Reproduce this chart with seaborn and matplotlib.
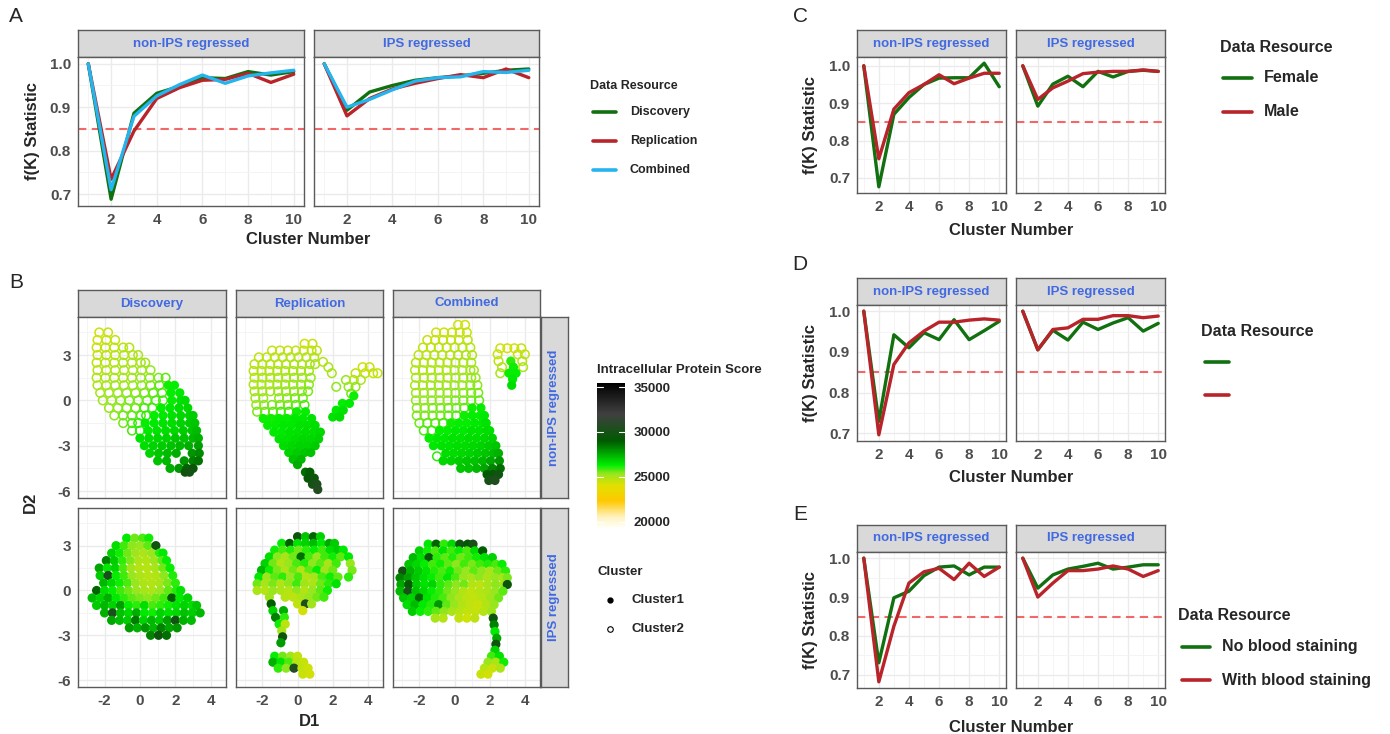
import numpy as np
import pandas as pd
import seaborn as sns
import matplotlib
matplotlib.use('Agg')
import matplotlib.pyplot as plt
from matplotlib.colors import LinearSegmentedColormap, Normalize
from matplotlib.cm import ScalarMappable
from matplotlib.lines import Line2D

W, H = 1390, 734

# ---------------------------------------------------------------
# f(K) curves, cluster number 1..10
# ---------------------------------------------------------------
cluster_k = [1, 2, 3, 4, 5, 6, 7, 8, 9, 10]
facets = ['non-IPS regressed', 'IPS regressed']

# panel A: data resource
a_discovery_non = [1.0, 0.688, 0.886, 0.932, 0.948, 0.968, 0.966, 0.982, 0.974, 0.982]
a_replication_non = [1.0, 0.734, 0.845, 0.920, 0.945, 0.962, 0.964, 0.978, 0.957, 0.976]
a_combined_non = [1.0, 0.710, 0.879, 0.926, 0.952, 0.974, 0.955, 0.972, 0.979, 0.985]
a_discovery_ips = [1.0, 0.893, 0.935, 0.950, 0.962, 0.968, 0.972, 0.978, 0.985, 0.988]
a_replication_ips = [1.0, 0.880, 0.920, 0.942, 0.955, 0.966, 0.975, 0.968, 0.988, 0.968]
a_combined_ips = [1.0, 0.900, 0.918, 0.940, 0.960, 0.968, 0.970, 0.982, 0.980, 0.985]

# panel C: sex
c_female_non = [1.0, 0.676, 0.870, 0.915, 0.950, 0.967, 0.968, 0.968, 1.007, 0.944]
c_male_non = [1.0, 0.751, 0.884, 0.928, 0.950, 0.976, 0.952, 0.967, 0.980, 0.980]
c_female_ips = [1.0, 0.892, 0.951, 0.972, 0.944, 0.985, 0.970, 0.985, 0.988, 0.985]
c_male_ips = [1.0, 0.910, 0.941, 0.959, 0.979, 0.983, 0.985, 0.985, 0.989, 0.985]

# panel D: unlabeled groups
d_green_non = [1.0, 0.729, 0.942, 0.910, 0.947, 0.930, 0.979, 0.930, 0.952, 0.975]
d_red_non = [1.0, 0.696, 0.869, 0.922, 0.951, 0.973, 0.973, 0.978, 0.981, 0.978]
d_green_ips = [1.0, 0.905, 0.953, 0.929, 0.973, 0.955, 0.971, 0.984, 0.951, 0.970]
d_red_ips = [1.0, 0.905, 0.955, 0.959, 0.980, 0.980, 0.989, 0.989, 0.984, 0.988]

# panel E: blood staining
e_noblood_non = [1.0, 0.731, 0.898, 0.915, 0.955, 0.977, 0.980, 0.957, 0.977, 0.977]
e_blood_non = [1.0, 0.682, 0.825, 0.936, 0.965, 0.974, 0.945, 0.987, 0.953, 0.977]
e_noblood_ips = [1.0, 0.923, 0.957, 0.972, 0.979, 0.987, 0.972, 0.977, 0.983, 0.983]
e_blood_ips = [1.0, 0.900, 0.936, 0.968, 0.968, 0.972, 0.980, 0.972, 0.953, 0.968]

# ---------------------------------------------------------------
# panel B scatter, rows of (D2, [D1 values], [protein scores])
# ---------------------------------------------------------------
disc_non_c2 = [
    (4.5, [-2.3, -1.8], [24400, 24500]),
    (4.0, [-2.4, -1.9, -1.4], [24400, 24500, 24600]),
    (3.5, [-2.45, -1.95, -1.45, -0.95, -0.6], [24500, 24600, 24700, 24700, 24800]),
    (3.0, [-2.4, -1.9, -1.4, -0.9, -0.4, -0.1], [24600, 24700, 24800, 24900, 24900, 25000]),
    (2.5, [-2.45, -1.95, -1.45, -0.95, -0.45, 0.05, 0.3], [24700, 24800, 24900, 25000, 25000, 25100, 25200]),
    (2.0, [-2.4, -1.9, -1.4, -0.9, -0.4, 0.1, 0.6], [24800, 24900, 25000, 25100, 25100, 25200, 25300]),
    (1.5, [-2.45, -1.95, -1.45, -0.95, -0.45, 0.05, 0.55, 1.05, 1.45], [24900, 25000, 25100, 25100, 25200, 25300, 25400, 25500, 25700]),
    (1.0, [-2.4, -1.9, -1.4, -0.9, -0.4, 0.1, 0.6, 1.1], [25000, 25100, 25200, 25200, 25300, 25400, 25500, 25700]),
    (0.5, [-2.25, -1.75, -1.25, -0.75, -0.25, 0.25, 0.75, 1.25], [25100, 25200, 25300, 25400, 25400, 25500, 25700, 25800]),
    (0.0, [-2.1, -1.6, -1.1, -0.6, -0.1, 0.4, 0.9, 1.3], [25200, 25300, 25400, 25500, 25600, 25700, 25800, 25900]),
    (-0.5, [-1.75, -1.25, -0.75, -0.25, 0.25, 0.7], [25300, 25400, 25500, 25600, 25800, 25900]),
    (-1.0, [-1.45, -0.95, -0.45, 0.05, 0.35], [25400, 25600, 25700, 25800, 26000]),
    (-1.5, [-0.95, -0.45, -0.1], [25600, 25800, 26000]),
    (-2.0, [-0.45, 0.0], [25800, 26000]),
]
disc_non_c1 = [
    (1.0, [1.6, 1.95], [26200, 26300]),
    (0.5, [1.75, 2.25], [26300, 26400]),
    (0.0, [1.8, 2.3, 2.55], [26300, 26500, 26600]),
    (-0.5, [1.2, 1.7, 2.2, 2.7], [26300, 26400, 26600, 26700]),
    (-1.0, [0.8, 1.3, 1.8, 2.3, 2.8, 3.0], [26300, 26400, 26500, 26700, 26800, 26900]),
    (-1.5, [0.3, 0.8, 1.3, 1.8, 2.3, 2.8, 3.1], [26300, 26400, 26500, 26600, 26800, 26900, 27000]),
    (-2.0, [0.45, 0.95, 1.45, 1.95, 2.45, 2.95, 3.2], [26400, 26500, 26600, 26700, 26900, 27000, 27200]),
    (-2.5, [0.0, 0.5, 1.0, 1.5, 2.0, 2.5, 3.0, 3.3], [26500, 26600, 26700, 26800, 27000, 27100, 27300, 27400]),
    (-3.0, [0.25, 0.75, 1.25, 1.75, 2.25, 2.75, 3.3], [26600, 26800, 26900, 27100, 27300, 27500, 27700]),
    (-3.5, [0.55, 1.05, 1.55, 2.05, 2.95, 3.35], [26800, 27000, 27200, 27500, 27900, 28100]),
    (-4.0, [1.0, 1.5, 2.5, 3.0, 3.3], [27100, 27300, 27900, 28300, 28500]),
    (-4.5, [1.7, 2.2, 2.65, 3.0], [27500, 27900, 28800, 29300]),
    (-4.75, [2.55, 2.8], [29600, 29900]),
]

rep_non_c2 = [
    (3.75, [0.4, 0.85], [24400, 24500]),
    (3.3, [-1.45, -1.0, -0.55, -0.1, 0.35, 0.8, 1.1], [24500, 24500, 24600, 24600, 24500, 24600, 24700]),
    (2.85, [-2.2, -1.75, -1.3, -0.85, -0.4, 0.05, 0.5, 0.95], [24600, 24700, 24700, 24800, 24800, 24800, 24900, 24900]),
    (2.4, [-2.45, -2.0, -1.55, -1.1, -0.65, -0.2, 0.25, 0.7, 1.0], [24700, 24800, 24800, 24900, 24900, 25000, 25000, 25100, 25100]),
    (1.95, [-2.5, -2.05, -1.6, -1.15, -0.7, -0.25, 0.2, 0.65], [24800, 24900, 24900, 25000, 25000, 25100, 25100, 25200]),
    (1.5, [-2.45, -2.0, -1.55, -1.1, -0.65, -0.2, 0.25, 0.75], [24900, 25000, 25000, 25100, 25100, 25200, 25200, 25300]),
    (1.05, [-2.5, -2.05, -1.6, -1.15, -0.7, -0.25, 0.2, 0.65], [25000, 25100, 25100, 25200, 25200, 25300, 25300, 25400]),
    (0.6, [-2.45, -2.0, -1.55, -1.1, -0.65, -0.2, 0.25, 0.6], [25100, 25200, 25200, 25300, 25300, 25400, 25400, 25500]),
    (0.15, [-2.4, -1.95, -1.05, -0.6, -0.15, 0.3], [25200, 25300, 25400, 25400, 25500, 25600]),
    (-0.3, [-2.35, -1.9, -1.45, -1.0, -0.55, -0.1, 0.4], [25300, 25400, 25500, 25500, 25600, 25700, 25800]),
    (-0.75, [-2.3, -1.85, -1.4, -0.95, -0.5], [25500, 25600, 25700, 25800, 25900]),
    (2.55, [1.45], [24900]),
    (2.2, [1.75, 3.7, 4.1], [25000, 24400, 24500]),
    (1.8, [1.95, 3.3, 3.85, 4.3, 4.55], [25100, 24600, 24500, 24500, 24600]),
    (1.35, [2.75, 3.2, 3.6], [25300, 24900, 25000]),
    (0.9, [2.2, 2.9, 3.3], [25400, 25300, 25400]),
    (0.45, [3.05], [25600]),
]
rep_non_c1 = [
    (-0.75, [-0.05, 0.45], [26200, 26300]),
    (-1.2, [-1.95, -1.5, -1.05, -0.6, -0.15, 0.3, 0.8], [26200, 26200, 26300, 26300, 26400, 26400, 26500]),
    (-1.65, [-1.7, -1.25, -0.8, -0.35, 0.1, 0.55, 1.0], [26300, 26300, 26400, 26400, 26500, 26500, 26600]),
    (-2.1, [-1.35, -0.9, -0.45, 0.0, 0.45, 0.9, 1.3], [26400, 26400, 26500, 26500, 26600, 26600, 26700]),
    (-2.55, [-1.05, -0.6, -0.15, 0.3, 0.75, 1.2], [26500, 26500, 26600, 26700, 26700, 26800]),
    (-3.0, [-0.8, -0.35, 0.1, 0.55, 1.0], [26600, 26700, 26800, 26800, 26900]),
    (-3.45, [-0.5, -0.05, 0.4, 0.75], [26800, 26900, 27000, 27100]),
    (-3.9, [-0.25, 0.2], [27100, 27300]),
    (-4.25, [0.0], [27500]),
    (-4.75, [0.45, 0.7], [28600, 28900]),
    (-5.15, [0.6, 0.95], [29300, 29600]),
    (-5.55, [0.85, 1.1], [30000, 30300]),
    (-5.9, [1.15], [30600]),
    (0.3, [3.2], [26200]),
    (-0.2, [2.55, 2.95], [26300, 26400]),
    (-0.65, [2.2, 2.6], [26400, 26500]),
    (-1.1, [2.0, 2.4], [26500, 26600]),
]

comb_non_c2 = [
    (5.0, [0.2, 0.6], [24300, 24400]),
    (4.5, [-1.05, -0.6, -0.15, 0.3, 0.7], [24400, 24400, 24500, 24500, 24500]),
    (4.0, [-1.55, -1.1, -0.65, -0.2, 0.25, 0.75], [24500, 24500, 24600, 24600, 24600, 24700]),
    (3.5, [-1.8, -1.35, -0.9, -0.45, 0.0, 0.45, 0.9], [24600, 24600, 24700, 24700, 24700, 24800, 24800]),
    (3.0, [-2.05, -1.6, -1.15, -0.7, -0.25, 0.2, 0.65, 1.0], [24700, 24700, 24800, 24800, 24800, 24900, 24900, 25000]),
    (2.5, [-2.2, -1.75, -1.3, -0.85, -0.4, 0.05, 0.5, 0.95], [24800, 24800, 24900, 24900, 24900, 25000, 25000, 25100]),
    (2.0, [-2.25, -1.8, -1.35, -0.9, -0.45, 0.0, 0.45, 0.9, 1.1], [24900, 24900, 25000, 25000, 25000, 25100, 25100, 25200, 25200]),
    (1.5, [-2.2, -1.75, -1.3, -0.85, -0.4, 0.05, 0.5, 0.95, 1.2], [25000, 25000, 25100, 25100, 25100, 25200, 25200, 25300, 25300]),
    (1.0, [-2.25, -1.8, -1.35, -0.9, -0.45, 0.0, 0.45, 0.9, 1.3], [25100, 25100, 25200, 25200, 25200, 25300, 25300, 25400, 25400]),
    (0.5, [-2.2, -1.75, -1.3, -0.85, -0.4, 0.05, 0.5, 0.95, 1.35], [25200, 25200, 25300, 25300, 25300, 25400, 25400, 25500, 25500]),
    (0.0, [-2.2, -1.75, -1.3, -0.85, -0.4, 0.05, 0.5, 0.95, 1.4], [25300, 25300, 25400, 25400, 25400, 25500, 25500, 25600, 25700]),
    (-0.5, [-2.15, -1.7, -1.25, -0.8, -0.35, 0.1, 0.55], [25400, 25400, 25500, 25500, 25600, 25600, 25700]),
    (-1.0, [-2.15, -1.7, -1.25, -0.8, -0.35, 0.1], [25500, 25500, 25600, 25600, 25700, 25800]),
    (-1.5, [-2.0, -1.55, -1.1, -0.65], [25600, 25700, 25700, 25800]),
    (-2.0, [-1.75, -1.3], [25800, 25900]),
    (-3.7, [-1.0], [26000]),
    (3.45, [2.6, 3.0, 3.4, 3.8], [24400, 24300, 24400, 24500]),
    (3.05, [2.45, 3.6, 4.0], [24500, 24500, 24600]),
    (2.6, [2.5, 3.85], [24700, 24800]),
    (2.2, [2.7, 3.9], [24900, 25000]),
    (1.8, [2.6], [25100]),
]
comb_non_c1 = [
    (-0.5, [1.0, 1.5], [26200, 26300]),
    (-1.0, [0.55, 1.0, 1.45, 1.7], [26200, 26300, 26300, 26400]),
    (-1.5, [-0.2, 0.25, 0.7, 1.15, 1.6, 1.8], [26200, 26300, 26300, 26400, 26400, 26500]),
    (-2.0, [-0.85, -0.4, 0.05, 0.5, 0.95, 1.4, 1.85, 2.0], [26300, 26300, 26400, 26400, 26500, 26500, 26600, 26600]),
    (-2.5, [-1.45, -1.0, -0.55, -0.1, 0.35, 0.8, 1.25, 1.7, 2.15], [26300, 26400, 26400, 26500, 26500, 26600, 26600, 26700, 26800]),
    (-3.0, [-1.2, -0.75, -0.3, 0.15, 0.6, 1.05, 1.5, 1.95, 2.35], [26400, 26500, 26500, 26600, 26600, 26700, 26800, 26900, 27000]),
    (-3.5, [-0.5, -0.05, 0.4, 0.85, 1.3, 1.75, 2.2, 2.5], [26600, 26600, 26700, 26800, 26900, 27000, 27200, 27400]),
    (-4.0, [-0.65, -0.2, 0.25, 0.7, 1.15, 1.6, 2.05, 2.55], [26700, 26800, 26900, 27000, 27100, 27300, 27600, 27900]),
    (-4.5, [0.35, 0.8, 1.25, 1.7, 2.15, 2.6], [27000, 27100, 27300, 27600, 28200, 28600]),
    (-4.9, [1.85, 2.2, 2.5], [29000, 29400, 29700]),
    (-5.3, [1.95, 2.3], [30000, 30400]),
    (2.6, [3.2], [26000]),
    (2.2, [3.35], [26200]),
    (1.8, [3.1, 3.5], [26300, 26300]),
    (1.4, [3.3], [26400]),
    (1.0, [3.25], [26600]),
]

disc_ips_c1 = [
    (3.5, [-0.75, -0.3, 0.15, 0.5], [26400, 25600, 25800, 26200]),
    (3.0, [-1.35, -0.9, -0.45, 0.0, 0.45, 0.9], [26600, 25900, 25400, 25300, 25700, 29800]),
    (2.5, [-1.6, -1.15, -0.7, -0.25, 0.2, 0.65, 1.1, 1.3], [26800, 26200, 25600, 25200, 25000, 25300, 26000, 26400]),
    (2.0, [-1.9, -1.45, -1.0, -0.55, -0.1, 0.35, 0.8, 1.25, 1.5], [28300, 26900, 26000, 25500, 25000, 24900, 25200, 25700, 26300]),
    (1.5, [-2.3, -1.85, -1.4, -0.95, -0.5, -0.05, 0.4, 0.85, 1.3, 1.7], [27600, 26400, 26800, 25800, 25200, 24900, 24800, 25100, 25600, 26300]),
    (1.0, [-2.25, -1.8, -1.35, -0.9, -0.45, 0.0, 0.45, 0.9, 1.35, 1.85], [26900, 30200, 26300, 25900, 25300, 25000, 24800, 24900, 25400, 26100]),
    (0.5, [-2.05, -1.6, -1.15, -0.7, -0.25, 0.2, 0.65, 1.1, 1.55, 2.0], [27300, 26700, 26200, 25800, 25300, 25000, 24900, 25100, 25500, 26000]),
    (0.0, [-2.45, -2.0, -1.55, -1.1, -0.65, -0.2, 0.25, 0.7, 1.15, 1.6, 2.05, 2.3], [28800, 26600, 26300, 25900, 25600, 25300, 25100, 25000, 25300, 25700, 26100, 26500]),
    (-0.5, [-2.7, -2.25, -1.8, -1.35, -0.9, -0.45, 0.0, 0.45, 0.9, 1.35, 1.8, 2.25, 2.7], [27200, 26800, 27500, 26400, 26000, 25700, 25500, 25400, 25600, 25900, 28900, 26400, 26800]),
    (-1.0, [-2.45, -2.0, -1.55, -1.1, -0.65, -0.2, 0.25, 0.7, 1.15, 1.6, 2.05, 2.5, 2.95, 3.2], [26900, 27300, 26800, 27800, 26300, 26000, 26600, 25800, 26000, 26200, 26500, 26800, 26600, 27000]),
    (-1.5, [-2.0, -1.55, -1.1, -0.65, -0.2, 0.25, 0.7, 1.15, 1.6, 2.05, 2.5, 2.95, 3.4], [27400, 30300, 27100, 26700, 27500, 26400, 26200, 26800, 26500, 26700, 27100, 26900, 27300]),
    (-2.0, [-1.6, -1.15, -0.7, -0.25, 0.2, 0.65, 1.1, 1.55, 2.0, 2.45, 2.9], [27600, 27200, 26900, 28400, 26800, 27300, 26900, 27700, 29900, 27400, 27200]),
    (-2.5, [-0.6, -0.15, 0.3, 0.75, 1.2, 1.65, 2.1], [27800, 27400, 27900, 27300, 28300, 27600, 27900]),
    (-3.0, [0.6, 1.05, 1.5], [28200, 29500, 28600]),
]

rep_ips_c1 = [
    (3.6, [0.0, 0.45, 0.9, 1.3], [29600, 27000, 28800, 26800]),
    (3.15, [-0.9, -0.45, 0.0, 0.45, 0.9, 1.35, 1.8, 2.1], [26300, 28900, 26500, 26800, 27200, 26400, 27600, 26900]),
    (2.7, [-1.3, -0.85, -0.4, 0.05, 0.5, 0.95, 1.4, 1.85, 2.3, 2.6], [26200, 25800, 26100, 25600, 26000, 26300, 25900, 26600, 26900, 26400]),
    (2.25, [-1.6, -1.15, -0.7, -0.25, 0.2, 0.65, 1.1, 1.55, 2.0, 2.45, 2.9], [26600, 25400, 25100, 25600, 28600, 25800, 25300, 25900, 26200, 25700, 26400]),
    (1.8, [-1.85, -1.4, -0.95, -0.5, -0.05, 0.4, 0.85, 1.3, 1.75, 2.2, 3.0], [26800, 25600, 24900, 25300, 25800, 26100, 25400, 25700, 25100, 25900, 25300]),
    (1.35, [-2.05, -1.6, -1.15, -0.7, -0.25, 0.2, 0.65, 1.1, 1.55, 2.0, 3.1], [27300, 26200, 25500, 25000, 25600, 24900, 25700, 26300, 25200, 25600, 25500]),
    (0.9, [-2.2, -1.75, -1.3, -0.85, -0.4, 0.05, 0.5, 0.95, 1.4, 1.85, 2.3, 2.9], [26400, 25200, 25700, 26000, 25300, 25800, 24900, 25100, 25800, 26200, 25700, 26000]),
    (0.45, [-2.3, -1.85, -1.4, -0.95, -0.5, -0.05, 0.4, 0.85, 1.3, 1.75, 2.2], [25600, 25100, 25500, 24900, 25400, 25900, 25200, 25000, 25600, 26000, 26500]),
    (0.0, [-2.3, -1.85, -1.4, -0.95, -0.5, -0.05, 0.4, 0.85, 1.3, 1.7], [25000, 24800, 25300, 25000, 24800, 25400, 24900, 25300, 25700, 26200]),
    (-0.45, [-1.6, -0.7, -0.25, 0.2, 0.65, 1.1, 1.5], [25200, 24800, 24700, 25000, 25300, 25600, 25900]),
    (-0.9, [-1.5, 0.0, 0.45, 0.8], [28900, 24600, 30400, 25200]),
    (-1.35, [-1.4, -0.8, 0.3], [26800, 27500, 24300]),
    (-1.8, [-1.25, -0.75], [28300, 26000]),
    (-2.25, [-1.05, -0.7], [26200, 24700]),
    (-2.7, [-0.9], [25100]),
    (-3.1, [-0.85], [29600]),
    (-3.5, [-0.95], [27800]),
    (-4.4, [-1.3, -0.85, -0.4, 0.0], [26300, 25600, 25200, 24600]),
    (-4.8, [-1.4, -0.95, -0.5, -0.05, 0.35], [27400, 26500, 25800, 24800, 24500]),
    (-5.2, [-1.1, -0.65, -0.2, 0.25, 0.6], [26000, 25400, 30600, 24600, 24400]),
    (-5.6, [0.3, 0.7], [24500, 24300]),
]

comb_ips_c1 = [
    (3.1, [-1.5, -1.05, -0.6, -0.15, 0.3, 0.75, 1.05], [26400, 28800, 26000, 26700, 29700, 29200, 30100]),
    (2.65, [-2.0, -1.55, -1.1, -0.65, -0.2, 0.25, 0.7, 1.15, 1.6], [26800, 26200, 25800, 26500, 25900, 26300, 25800, 26600, 28900]),
    (2.2, [-2.35, -1.9, -1.45, -1.0, -0.55, -0.1, 0.35, 0.8, 1.25, 1.7, 2.15], [27200, 26600, 29300, 26000, 25700, 26100, 25600, 25900, 26200, 26500, 26800]),
    (1.75, [-2.6, -2.15, -1.7, -1.25, -0.8, -0.35, 0.1, 0.55, 1.0, 1.45, 1.9, 2.35, 2.7], [27000, 26700, 26300, 25900, 26200, 25700, 25400, 25900, 25500, 25900, 26100, 25800, 26300]),
    (1.3, [-2.95, -2.5, -2.05, -1.6, -1.15, -0.7, -0.25, 0.2, 0.65, 1.1, 1.55, 2.0, 2.45, 2.9], [29800, 27400, 26900, 26500, 26100, 25800, 26200, 25600, 25300, 25700, 25400, 25100, 25600, 26000]),
    (0.85, [-3.1, -2.65, -2.2, -1.75, -1.3, -0.85, -0.4, 0.05, 0.5, 0.95, 1.4, 1.85, 2.3, 2.75, 3.0], [28300, 27700, 27000, 26600, 26300, 25900, 26400, 25800, 25300, 25100, 25400, 25000, 25300, 25100, 25500]),
    (0.4, [-3.05, -2.6, -2.15, -1.7, -1.25, -0.8, -0.35, 0.1, 0.55, 1.0, 1.45, 1.9, 2.35, 2.8, 3.0], [27600, 28900, 26900, 26500, 26800, 26000, 25700, 25400, 25600, 24900, 24700, 25100, 25400, 25200, 29500]),
    (-0.05, [-3.1, -2.65, -2.2, -1.75, -1.3, -0.85, -0.4, 0.05, 0.5, 0.95, 1.4, 1.85, 2.3, 2.75], [27300, 30200, 27100, 26700, 26300, 26000, 25600, 25300, 24900, 24600, 24800, 25000, 25300, 25700]),
    (-0.5, [-2.9, -2.45, -2.0, -1.55, -1.1, -0.65, -0.2, 0.25, 0.7, 1.15, 1.6, 2.05, 2.5], [27000, 26800, 28700, 26500, 26100, 25800, 25400, 25000, 24700, 24600, 24800, 25200, 25600]),
    (-0.95, [-2.7, -2.25, -1.8, -1.35, -0.9, -0.45, 0.0, 0.45, 0.9, 1.35, 1.8, 2.25], [26600, 27200, 26400, 26100, 27900, 25700, 25300, 24900, 24600, 24500, 24900, 25300]),
    (-1.4, [-2.4, -1.95, -1.5, -1.05, -0.6, -0.15, 0.3, 0.75, 1.2, 1.65, 2.1], [26900, 26300, 26000, 25700, 25400, 25100, 24800, 24600, 24500, 24800, 25200]),
    (-1.85, [-1.1, -0.65, 0.25, 0.7, 1.15, 2.2], [25100, 24800, 24600, 24400, 24700, 29600]),
    (-2.3, [2.25], [28200]),
    (-2.75, [2.3], [26400]),
    (-3.2, [2.4], [27600]),
    (-3.6, [2.35], [29700]),
    (-4.0, [2.3], [26800]),
    (-4.4, [2.1, 2.55], [25900, 26500]),
    (-4.8, [1.9, 2.35, 2.8], [25300, 25000, 26200]),
    (-5.2, [1.7, 2.15, 2.6], [24800, 24500, 25000]),
    (-5.6, [1.5, 1.9], [24500, 24300]),
]

score_breaks = [20000, 25000, 30000, 35000]
score_nodes = [19300, 20500, 22300, 24000, 25300, 26300, 29000, 32000, 35450]
score_colors = ['#FFFFF8', '#FFF2C0', '#FFC800', '#E2E000', '#9AE61E',
                '#00EE00', '#005A00', '#404040', '#000000']

GREEN = '#11700F'
RED = '#B8242A'
BLUE = '#25B4EE'
GRID = '#EBEBEB'
BORDER = '#5A5A5A'
STRIP_BG = '#D9D9D9'
STRIP_TXT = '#4169E1'
TICK_TXT = '#4D4D4D'

sns.set_style('white')
plt.rcParams['font.family'] = ['Liberation Sans', 'DejaVu Sans']
plt.rcParams['axes.unicode_minus'] = False

fig = plt.figure(figsize=(W / 100, H / 100), dpi=100)
fig.patch.set_facecolor('white')


def add_px(l, t, r, b):
    return fig.add_axes([l / W, 1 - b / H, (r - l) / W, (b - t) / H])


def fig_text(x, y, s, **kw):
    fig.text(x / W, 1 - y / H, s, **kw)


def strip(l, t, r, b, text, rot=0):
    sa = add_px(l, t, r, b)
    sa.set_facecolor(STRIP_BG)
    sa.set_xticks([])
    sa.set_yticks([])
    for sp in sa.spines.values():
        sp.set_color(BORDER)
        sp.set_linewidth(1.0)
    sa.text(0.5, 0.5, text, transform=sa.transAxes, ha='center', va='center',
            rotation=rot, color=STRIP_TXT, fontsize=9.5, fontweight='bold')


def style_panel(ax, xmaj, xmin, ymaj, ymin, show_x, show_y, yfmt=None):
    ax.set_xticks(xmaj)
    ax.set_xticks(xmin, minor=True)
    ax.set_yticks(ymaj)
    ax.set_yticks(ymin, minor=True)
    if yfmt:
        ax.set_yticklabels([yfmt % v for v in ymaj])
    ax.grid(which='major', color=GRID, lw=1.0)
    ax.grid(which='minor', color='#F3F3F3', lw=0.6)
    ax.set_axisbelow(True)
    ax.set_facecolor('white')
    for sp in ax.spines.values():
        sp.set_visible(True)
        sp.set_color(BORDER)
        sp.set_linewidth(1.0)
    ax.tick_params(which='major', length=3, width=0.8, color='#333333',
                   labelsize=11, labelcolor=TICK_TXT, pad=2)
    ax.tick_params(which='minor', length=0)
    for lab in ax.get_xticklabels() + ax.get_yticklabels():
        lab.set_fontweight('bold')
    if not show_x:
        ax.tick_params(axis='x', which='both', labelbottom=False, length=0)
    if not show_y:
        ax.tick_params(axis='y', which='both', labelleft=False, length=0)
    ax.set_xlabel('')
    ax.set_ylabel('')


def draw_fk(strip_top, strip_bot, plot_bot, cols, series, groups):
    # series: {facet: [values per group]}, groups: [(key, color)]
    frames = []
    for facet in facets:
        for (key, color), vals in zip(groups, series[facet]):
            frames.append(pd.DataFrame({'k': cluster_k, 'fk': vals,
                                        'facet': facet, 'group': key}))
    df = pd.concat(frames, ignore_index=True)
    lo, hi = df['fk'].min(), df['fk'].max()
    pad = 0.05 * (hi - lo)
    pal = {key: color for key, color in groups}
    for i, facet in enumerate(facets):
        l, r = cols[i]
        strip(l, strip_top, r, strip_bot, facet)
        ax = add_px(l, strip_bot, r, plot_bot)
        ax.axhline(0.85, color='#F06868', lw=1.5, dashes=(4, 2.6), zorder=1)
        sns.lineplot(data=df[df['facet'] == facet], x='k', y='fk', hue='group',
                     hue_order=[g[0] for g in groups], palette=pal, lw=2.4,
                     errorbar=None, legend=False, ax=ax, zorder=2)
        ax.set_xlim(0.55, 10.45)
        ax.set_ylim(lo - pad, hi + pad)
        style_panel(ax, [2, 4, 6, 8, 10], [1, 3, 5, 7, 9], [0.7, 0.8, 0.9, 1.0],
                    [0.75, 0.85, 0.95], True, i == 0, yfmt='%.1f')


def draw_legend(title, x, y, items, x0, x1, tx, fs):
    fig_text(x, y, title, fontsize=fs, fontweight='bold', va='center', ha='left')
    for yy, color, label in items:
        fig.add_artist(Line2D([x0 / W, x1 / W], [1 - yy / H, 1 - yy / H],
                              color=color, lw=2.6, transform=fig.transFigure))
        if label:
            fig_text(tx, yy, label, fontsize=fs, fontweight='bold',
                     va='center', ha='left')


# ---------------- panel A ----------------
draw_fk(30, 57, 206, [(78, 304), (314, 539)],
        {facets[0]: [a_discovery_non, a_replication_non, a_combined_non],
         facets[1]: [a_discovery_ips, a_replication_ips, a_combined_ips]},
        [('Discovery', GREEN), ('Replication', RED), ('Combined', BLUE)])
fig_text(32, 131, 'f(K) Statistic', fontsize=12, fontweight='bold', rotation=90,
         ha='center', va='center')
fig_text(308, 240, 'Cluster Number', fontsize=12, fontweight='bold',
         ha='center', va='center')
draw_legend('Data Resource', 590, 86,
            [(112, GREEN, 'Discovery'), (141, RED, 'Replication'), (170, BLUE, 'Combined')],
            593, 616, 630, 9)

# ---------------- panel C, D, E ----------------
right_cols = [(857, 1006), (1016, 1165)]
draw_fk(30, 57, 193, right_cols,
        {facets[0]: [c_female_non, c_male_non], facets[1]: [c_female_ips, c_male_ips]},
        [('Female', GREEN), ('Male', RED)])
draw_fk(278, 305, 441, right_cols,
        {facets[0]: [d_green_non, d_red_non], facets[1]: [d_green_ips, d_red_ips]},
        [('group1', GREEN), ('group2', RED)])
draw_fk(525, 552, 688, right_cols,
        {facets[0]: [e_noblood_non, e_blood_non], facets[1]: [e_noblood_ips, e_blood_ips]},
        [('No blood staining', GREEN), ('With blood staining', RED)])
for yl, yc in [(125, 230), (373, 477), (620, 727)]:
    fig_text(811, yl, 'f(K) Statistic', fontsize=12, fontweight='bold', rotation=90,
             ha='center', va='center')
    fig_text(1011, yc, 'Cluster Number', fontsize=12, fontweight='bold',
             ha='center', va='center')
draw_legend('Data Resource', 1220, 47, [(78, GREEN, 'Female'), (112, RED, 'Male')],
            1223, 1252, 1264, 11.5)
draw_legend('Data Resource', 1201, 332, [(362, GREEN, ''), (395, RED, '')],
            1205, 1229, 1240, 11.5)
draw_legend('Data Resource', 1178, 616,
            [(647, GREEN, 'No blood staining'), (680, RED, 'With blood staining')],
            1182, 1210, 1222, 11.5)

# ---------------- panel B ----------------
def rows_to_frame(rows, cluster):
    recs = []
    for d2, xs, ss in rows:
        for d1, s in zip(xs, ss):
            recs.append({'D1': d1, 'D2': d2, 'score': s, 'cluster': cluster})
    return pd.DataFrame(recs, columns=['D1', 'D2', 'score', 'cluster'])


cmap = LinearSegmentedColormap.from_list(
    'protein', [((v - score_nodes[0]) / (score_nodes[-1] - score_nodes[0]), c)
                for v, c in zip(score_nodes, score_colors)])
norm = Normalize(score_nodes[0], score_nodes[-1])

b_cols = [(78, 226), (236, 383), (393, 540)]
b_rows = [(317, 498), (508, 687)]
b_sets = ['Discovery', 'Replication', 'Combined']
b_data = {
    (0, 0): (disc_non_c2, disc_non_c1), (0, 1): (rep_non_c2, rep_non_c1),
    (0, 2): (comb_non_c2, comb_non_c1), (1, 0): ([], disc_ips_c1),
    (1, 1): ([], rep_ips_c1), (1, 2): ([], comb_ips_c1),
}
for j, (l, r) in enumerate(b_cols):
    strip(l, 290, r, 317, b_sets[j])
for i, (t, b) in enumerate(b_rows):
    strip(541, t, 568, b, facets[i], rot=90)
    for j, (l, r) in enumerate(b_cols):
        ax = add_px(l, t, r, b)
        open_rows, filled_rows = b_data[(i, j)]
        df2 = rows_to_frame(open_rows, 'Cluster2')
        df1 = rows_to_frame(filled_rows, 'Cluster1')
        if len(df2):
            sns.scatterplot(data=df2, x='D1', y='D2', hue='score', palette=cmap,
                            hue_norm=norm, s=38, linewidth=0, legend=False, ax=ax)
            coll = ax.collections[-1]
            coll.set_edgecolors(coll.get_facecolors())
            coll.set_facecolors('none')
            coll.set_linewidths(1.1)
        sns.scatterplot(data=df1, x='D1', y='D2', hue='score', palette=cmap,
                        hue_norm=norm, s=44, linewidth=0, legend=False, ax=ax)
        ax.set_xlim(-3.5, 4.86)
        ax.set_ylim(-6.46, 5.52)
        style_panel(ax, [-2, 0, 2, 4], [-3, -1, 1, 3], [-6, -3, 0, 3],
                    [-4.5, -1.5, 1.5, 4.5], i == 1, j == 0)

fig_text(30, 502, 'D2', fontsize=12, fontweight='bold', rotation=90,
         ha='center', va='center')
fig_text(309, 722, 'D1', fontsize=12, fontweight='bold', ha='center', va='center')

# colour bar legend
fig_text(597, 370, 'Intracellular Protein Score', fontsize=9.5, fontweight='bold',
         ha='left', va='center')
cax = add_px(597, 383, 625, 528)
cb = fig.colorbar(ScalarMappable(norm=norm, cmap=cmap), cax=cax, ticks=score_breaks)
cb.outline.set_visible(False)
cax.tick_params(length=0, labelsize=9.5, pad=6)
for lab in cax.get_yticklabels():
    lab.set_fontweight('bold')
for v in score_breaks:
    cax.plot([0, 0.2], [v, v], color='white', lw=0.8)
    cax.plot([0.8, 1.0], [v, v], color='white', lw=0.8)

fig_text(597, 572, 'Cluster', fontsize=9.5, fontweight='bold', ha='left', va='center')
fig.add_artist(Line2D([610 / W], [1 - 600 / H], marker='o', ms=3.5, color='black',
                      lw=0, transform=fig.transFigure))
fig.add_artist(Line2D([610 / W], [1 - 629 / H], marker='o', ms=4, mfc='none',
                      mec='black', mew=0.8, lw=0, transform=fig.transFigure))
fig_text(632, 600, 'Cluster1', fontsize=9.5, fontweight='bold', ha='left', va='center')
fig_text(632, 629, 'Cluster2', fontsize=9.5, fontweight='bold', ha='left', va='center')

# panel letters
for letter, x, y in [('A', 16, 16), ('B', 16, 283), ('C', 800, 16), ('D', 800, 264), ('E', 800, 515)]:
    fig_text(x, y, letter, fontsize=15, ha='center', va='center')

fig.savefig('out.png', dpi=100)
